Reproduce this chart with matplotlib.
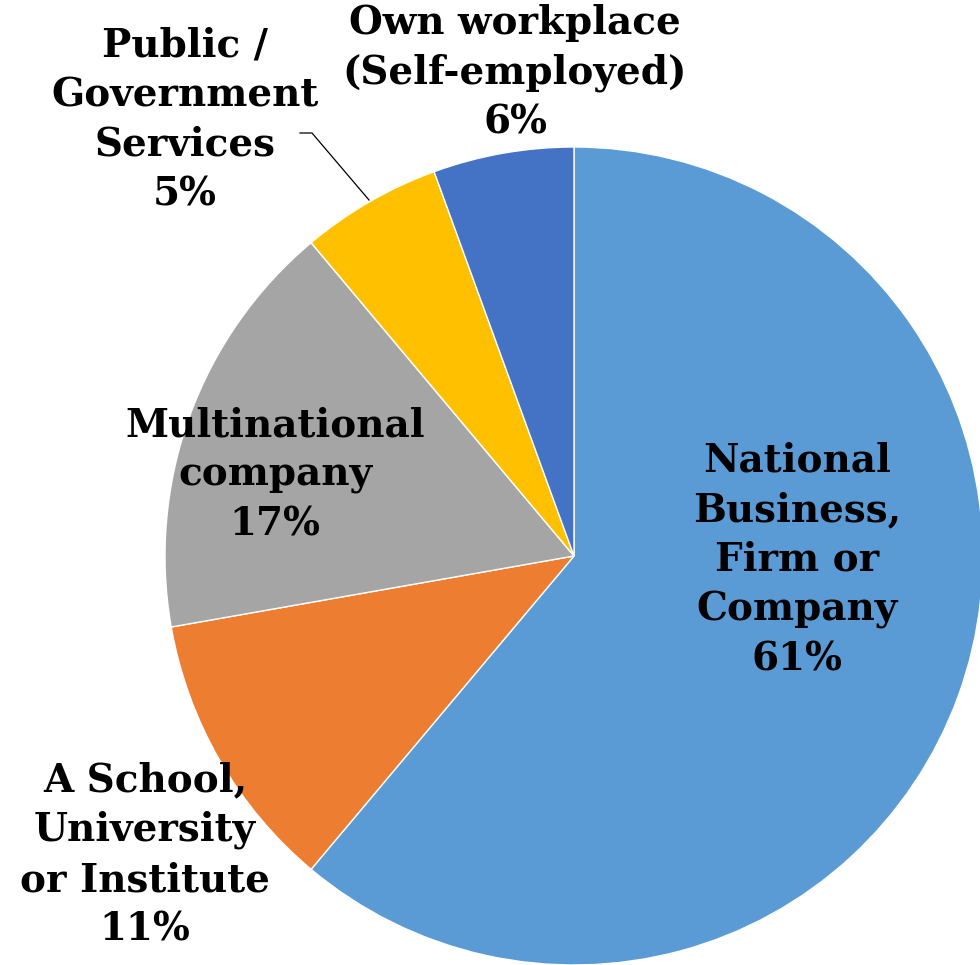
import numpy as np
import matplotlib.pyplot as plt

# slices, clockwise from 12 o'clock
labels = ['National\nBusiness,\nFirm or\nCompany', 'A School,\nUniversity\nor Institute',
          'Multinational\ncompany', 'Public /\nGovernment\nServices', 'Own workplace\n(Self-employed)']
counts = [11, 2, 3, 1, 1]          # slice sizes (respondents)
pct_labels = ['61%', '11%', '17%', '5%', '6%']   # percentages as printed on the chart
colors = ['#5B9BD5', '#ED7D31', '#A5A5A5', '#FFC000', '#4472C4']
# label centres in pixels (x from left, y from top)
label_xy = [(797, 560), (145, 855), (275, 475), (185, 120), (515, 73)]

W, H = 980, 965
fig = plt.figure(figsize=(W / 100, H / 100), dpi=100)
ax = fig.add_axes([0, 0, 1, 1])

cx, cy, r = 574, H - 556, 409
ax.pie(counts, colors=colors, startangle=90, counterclock=False,
       center=(cx, cy), radius=r, frame=True,
       wedgeprops=dict(edgecolor='white', linewidth=1))
ax.set_xlim(0, W)
ax.set_ylim(0, H)
ax.set_aspect('equal')
ax.axis('off')

for lab, p, (x, y) in zip(labels, pct_labels, label_xy):
    ax.text(x, H - y, f'{lab}\n{p}', ha='center', va='center', fontsize=28,
            fontweight='bold', family='DejaVu Serif', linespacing=1.39)

# leader line for the small public slice
ax.plot([300, 312, 369], [H - 133, H - 133, H - 200], color='black', lw=0.9)

fig.savefig('out.png', dpi=100)
